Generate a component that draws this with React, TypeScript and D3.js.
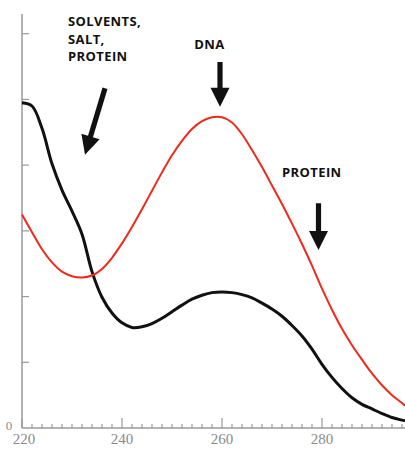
import React from "react";
import * as d3 from "d3";

const width = 405;
const height = 449;
const margin = { top: 14, right: 0, bottom: 20, left: 22 };

// wavelength (nm) and absorbance
const wavelengths = [
  220, 222, 224, 226, 228, 230, 232, 234, 236, 238, 240, 242, 244, 246, 248,
  250, 252, 254, 256, 258, 260, 262, 264, 266, 268, 270, 272, 274, 276, 278,
  280, 282, 284, 286, 288, 290, 292, 294, 296, 296.6,
];
const pureDna = [
  0.325, 0.298, 0.272, 0.252, 0.238, 0.231, 0.229, 0.232, 0.242, 0.259, 0.281,
  0.306, 0.333, 0.361, 0.389, 0.415, 0.437, 0.455, 0.467, 0.473, 0.473, 0.465,
  0.447, 0.423, 0.397, 0.369, 0.341, 0.311, 0.28, 0.247, 0.212, 0.18, 0.151,
  0.126, 0.104, 0.083, 0.065, 0.05, 0.038, 0.034,
];
const contaminated = [
  0.495, 0.49, 0.456, 0.402, 0.362, 0.33, 0.295, 0.238, 0.199, 0.175, 0.16,
  0.153, 0.154, 0.159, 0.167, 0.177, 0.187, 0.196, 0.202, 0.206, 0.207, 0.206,
  0.203, 0.198, 0.19, 0.181, 0.17, 0.156, 0.14, 0.12, 0.097, 0.077, 0.06,
  0.046, 0.036, 0.029, 0.022, 0.016, 0.012, 0.011,
];
const xTickLabels = [220, 240, 260, 280];

// annotations in data units
const labels = [
  { lines: ["SOLVENTS,", "SALT,", "PROTEIN"], x: 229.2, y: 0.612, anchor: "start" },
  { lines: ["DNA"], x: 257.5, y: 0.577, anchor: "middle" },
  { lines: ["PROTEIN"], x: 272, y: 0.382, anchor: "start" },
];
const arrows = [
  { x1: 236.6, y1: 0.517, x2: 232.6, y2: 0.416 },
  { x1: 259.6, y1: 0.557, x2: 259.6, y2: 0.489 },
  { x1: 279.3, y1: 0.342, x2: 279.3, y2: 0.271 },
];

const x = d3
  .scaleLinear()
  .domain([220, 296.6])
  .range([margin.left, width - margin.right]);
const y = d3
  .scaleLinear()
  .domain([0, 0.63])
  .range([height - margin.bottom - 1, margin.top]);

const line = d3
  .line<number>()
  .x((_, i) => x(wavelengths[i]))
  .y((d) => y(d))
  .curve(d3.curveCatmullRom);

function arrowPath(a: { x1: number; y1: number; x2: number; y2: number }) {
  const x1 = x(a.x1), y1 = y(a.y1), x2 = x(a.x2), y2 = y(a.y2);
  const dx = x2 - x1, dy = y2 - y1;
  const len = Math.hypot(dx, dy);
  const ux = dx / len, uy = dy / len;
  const px = -uy, py = ux;
  const shaft = 2.6, head = 9.5, headLen = 19;
  const bx = x2 - ux * headLen, by = y2 - uy * headLen;
  const pts = [
    [x1 + px * shaft, y1 + py * shaft],
    [bx + px * shaft, by + py * shaft],
    [bx + px * head, by + py * head],
    [x2, y2],
    [bx - px * head, by - py * head],
    [bx - px * shaft, by - py * shaft],
    [x1 - px * shaft, y1 - py * shaft],
  ];
  return "M" + pts.map((p) => p.join(",")).join("L") + "Z";
}

export default function App() {
  const y0 = y(0);
  const minor = d3.range(220, 297, 2);
  const yTicks = d3.range(0.1, 0.61, 0.1);
  const axisColor = "#9a9a9a";

  return (
    <svg
      width={width}
      height={height}
      style={{ position: "absolute", left: 0, top: 0, background: "#fff" }}
    >
      {/* axes */}
      <line x1={x(220)} x2={x(220)} y1={margin.top} y2={y0} stroke={axisColor} strokeWidth={1.5} />
      <line x1={x(220)} x2={width} y1={y0} y2={y0} stroke={axisColor} strokeWidth={1.5} />
      {yTicks.map((t) => (
        <line key={t} x1={x(220)} x2={x(220) + 7} y1={y(t)} y2={y(t)} stroke={axisColor} strokeWidth={1.2} />
      ))}
      {minor.map((t) => (
        <line
          key={t}
          x1={x(t)}
          x2={x(t)}
          y1={y0}
          y2={y0 - (t % 20 === 0 ? 10 : 4)}
          stroke={axisColor}
          strokeWidth={1.2}
        />
      ))}
      {xTickLabels.map((t) => (
        <text
          key={t}
          x={x(t) + (t === 220 ? 2 : 0)}
          y={y0 + 16}
          textAnchor="middle"
          fontFamily="Liberation Serif"
          fontSize={15}
          fill="#8a8a8a"
        >
          {t}
        </text>
      ))}
      <text x={9} y={y0 + 2} textAnchor="middle" fontFamily="Liberation Serif" fontSize={13} fill="#8a8a8a">
        0
      </text>

      {/* spectra */}
      <path d={line(contaminated) || ""} fill="none" stroke="#111" strokeWidth={3} strokeLinejoin="round" />
      <path d={line(pureDna) || ""} fill="none" stroke="#f0291c" strokeWidth={2} strokeLinejoin="round" />

      {/* annotations */}
      {arrows.map((a, i) => (
        <path key={i} d={arrowPath(a)} fill="#111" />
      ))}
      {labels.map((l, i) => (
        <text
          key={i}
          x={x(l.x)}
          y={y(l.y)}
          textAnchor={l.anchor}
          fontFamily="Open Sans"
          fontWeight={700}
          fontSize={13}
          letterSpacing={0.4}
          fill="#111"
        >
          {l.lines.map((s, j) => (
            <tspan key={j} x={x(l.x)} dy={j === 0 ? 0 : 17.8}>
              {s}
            </tspan>
          ))}
        </text>
      ))}
    </svg>
  );
}
